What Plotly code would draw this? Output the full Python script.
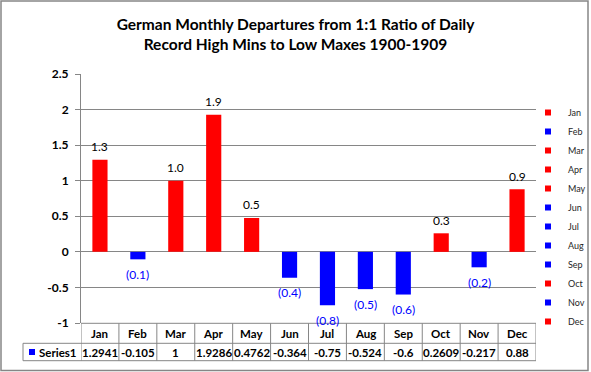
import plotly.graph_objects as go

months = ["Jan", "Feb", "Mar", "Apr", "May", "Jun", "Jul", "Aug", "Sep", "Oct", "Nov", "Dec"]
values = [1.2941, -0.105, 1, 1.9286, 0.4762, -0.364, -0.75, -0.524, -0.6, 0.2609, -0.217, 0.88]
series_name = "Series1"
title_text = "German Monthly Departures from 1:1 Ratio of Daily<br>Record High Mins to Low Maxes 1900-1909"
y_ticks = [-1, -0.5, 0, 0.5, 1, 1.5, 2, 2.5]

RED = "#FF0000"
BLUE = "#0000FF"
GRID = "#868686"
FONT = "Lato"

W, H = 591, 372
ML, MR, MT, MB = 81, 55, 74, 49
PW = W - ML - MR
PH = H - MT - MB

def px_to_px(x):
    return (x - ML) / PW

def py_to_py(y):
    return (H - MB - y) / PH

colors = [RED if v >= 0 else BLUE for v in values]

fig = go.Figure()
fig.add_trace(go.Bar(x=months, y=values, marker=dict(color=colors, line=dict(width=0)),
                     showlegend=False, hoverinfo="x+y"))

# legend entries (one per month, coloured by sign)
for m, c in zip(months, colors):
    fig.add_trace(go.Scatter(x=[None], y=[None], mode="markers", name=m,
                             marker=dict(symbol="square", size=6, color=c)))

annotations = []
# data labels
for m, v in zip(months, values):
    if v >= 0:
        txt, col, shift = f"{v:.1f}", "#000000", 13
    else:
        txt, col, shift = f"({abs(v):.1f})", BLUE, -15
    annotations.append(dict(x=m, y=v, xref="x", yref="y", text=txt, showarrow=False,
                            yshift=shift, yanchor="middle",
                            font=dict(family=FONT, size=12, color=col)))

# data table
hdr_y = py_to_py(333.3)
row_y = py_to_py(352)
for m, v in zip(months, values):
    annotations.append(dict(x=m, y=hdr_y, xref="x", yref="paper", text=f"<b>{m}</b>",
                            showarrow=False, yanchor="middle",
                            font=dict(family=FONT, size=11.5, color="#000000")))
    annotations.append(dict(x=m, y=row_y, xref="x", yref="paper", text=f"<b>{v:g}</b>",
                            showarrow=False, yanchor="middle",
                            font=dict(family=FONT, size=11.5, color="#000000")))
annotations.append(dict(x=px_to_px(37), y=row_y, xref="paper", yref="paper",
                        text=f"<b>{series_name}</b>", showarrow=False, xanchor="left",
                        yanchor="middle", font=dict(family=FONT, size=11.5, color="#000000")))

shapes = []
tbl_top = py_to_py(323.3)
tbl_mid = py_to_py(343.3)
tbl_bot = py_to_py(360.7)
# vertical lines of the table
for i in range(len(months) + 1):
    shapes.append(dict(type="line", xref="x", yref="paper", x0=i - 0.5, x1=i - 0.5,
                       y0=tbl_top, y1=tbl_bot, line=dict(color=GRID, width=1)))
# horizontal lines
shapes.append(dict(type="line", xref="paper", yref="paper", x0=0, x1=1, y0=tbl_top, y1=tbl_top,
                   line=dict(color=GRID, width=1)))
shapes.append(dict(type="line", xref="paper", yref="paper", x0=px_to_px(23), x1=1, y0=tbl_mid, y1=tbl_mid,
                   line=dict(color=GRID, width=1)))
shapes.append(dict(type="line", xref="paper", yref="paper", x0=px_to_px(23), x1=1, y0=tbl_bot, y1=tbl_bot,
                   line=dict(color=GRID, width=1)))
shapes.append(dict(type="line", xref="paper", yref="paper", x0=px_to_px(23), x1=px_to_px(23),
                   y0=tbl_mid, y1=tbl_bot, line=dict(color=GRID, width=1)))
# series key square
shapes.append(dict(type="rect", xref="paper", yref="paper", x0=px_to_px(29), x1=px_to_px(35),
                   y0=py_to_py(355), y1=py_to_py(349), fillcolor=BLUE, line=dict(width=0)))
# outer border
shapes.append(dict(type="rect", xref="paper", yref="paper", x0=px_to_px(1), x1=px_to_px(588),
                   y0=py_to_py(370.5), y1=py_to_py(1), line=dict(color=GRID, width=1.5),
                   layer="below"))

fig.update_layout(
    width=W, height=H,
    margin=dict(l=ML, r=MR, t=MT, b=MB, autoexpand=False),
    paper_bgcolor="white", plot_bgcolor="white",
    title=dict(text=f"<b>{title_text}</b>", x=0.5, xanchor="center", xref="container",
               y=1 - 30 / H, yanchor="middle", yref="container",
               font=dict(family=FONT, size=15.5, color="#000000")),
    bargap=0.6,
    barmode="overlay",
    showlegend=True,
    legend=dict(x=px_to_px(528), xanchor="left", y=py_to_py(98), yanchor="top",
                font=dict(family=FONT, size=9, color="#262626"),
                bgcolor="rgba(0,0,0,0)", itemwidth=30, tracegroupgap=0),
    xaxis=dict(type="category", showticklabels=False, showgrid=False, zeroline=False,
               showline=False, ticks="", range=[-0.5, 11.5]),
    yaxis=dict(range=[-1, 2.5], tickvals=y_ticks, ticktext=[f"{t:g}" for t in y_ticks],
               showgrid=True, gridcolor=GRID, gridwidth=1, zeroline=True, zerolinecolor=GRID,
               zerolinewidth=1, showline=True, linecolor=GRID, linewidth=1,
               ticks="outside", ticklen=5, tickcolor=GRID,
               tickfont=dict(family=FONT, size=12, color="#000000", weight="bold"),
               ticklabelstandoff=4),
    annotations=annotations,
    shapes=shapes,
    font=dict(family=FONT),
)

fig.write_html("out.html", config={"displayModeBar": False},
               post_script="document.body.style.margin='0';document.body.style.overflow='hidden';")
